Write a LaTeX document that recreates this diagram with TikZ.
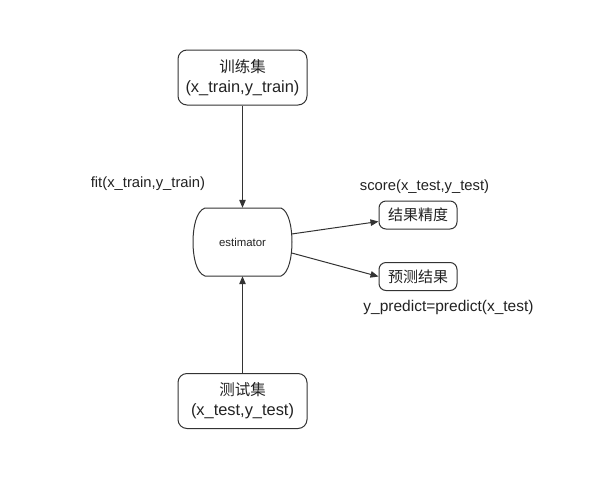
\documentclass[tikz,border=0pt]{standalone}
\usepackage{fontspec}
\setmainfont{Liberation Sans}
\newfontfamily\cjk{Noto Sans CJK SC}
\usetikzlibrary{arrows.meta}
\definecolor{ink}{HTML}{222222}
\definecolor{edge}{HTML}{333333}
\begin{document}
\begin{tikzpicture}[x=1pt,y=-1pt,
  boxline/.style={draw=edge,line width=1pt},
  bigbox/.style={boxline,rounded corners=9pt,minimum width=129pt,minimum height=55pt,align=center,inner sep=0pt,text=ink,font=\fontsize{16.4}{20}\selectfont},
  smallbox/.style={boxline,rounded corners=7pt,minimum width=78pt,minimum height=28pt,inner sep=0pt,text=ink,font=\cjk\fontsize{15}{18}\selectfont},
  lbl/.style={text=ink,inner sep=0pt,font=\fontsize{14.8}{18}\selectfont},
  arr/.style={draw=edge,line width=1pt,-{Triangle[length=8pt,width=6.5pt]}}]
\useasboundingbox (0,0) rectangle (600,480);
\node[bigbox] (train) at (242.5,77.5) {{\cjk\fontsize{15.5}{20}\selectfont 训练集}\\(x\_train,y\_train)};
\node[bigbox] (test) at (242.5,401) {{\cjk\fontsize{15.5}{20}\selectfont 测试集}\\(x\_test,y\_test)};
\node[minimum width=99pt,minimum height=68pt,inner sep=0pt,text=ink,font=\fontsize{11.4}{14}\selectfont] (est) at (242.5,242) {estimator};
\draw[boxline] (205,208) -- (281,208) .. controls (289,211) and (292,228) .. (292,242)
  .. controls (292,256) and (289,273) .. (281,276) -- (205,276)
  .. controls (196,273) and (193,256) .. (193,242)
  .. controls (193,228) and (196,211) .. (205,208) -- cycle;
\node[smallbox] (acc) at (418,215) {结果精度};
\node[smallbox] (pred) at (418,276.5) {预测结果};
\node[lbl] (fit) at (148,184) {fit(x\_train,y\_train)};
\node[lbl] (score) at (424.5,187) {score(x\_test,y\_test)};
\node[lbl,font=\fontsize{15.5}{18}\selectfont] (yp) at (448.5,307) {y\_predict=predict(x\_test)};
\draw[arr] (train.south) -- (est.north);
\draw[arr] (test.north) -- (est.south);
\draw[arr] ([xshift=-0.5pt,yshift=8pt]est.east) -- ([yshift=-6.5pt]acc.west);
\draw[arr] ([xshift=-0.5pt,yshift=-11pt]est.east) -- (pred.west);
\end{tikzpicture}
\end{document}
